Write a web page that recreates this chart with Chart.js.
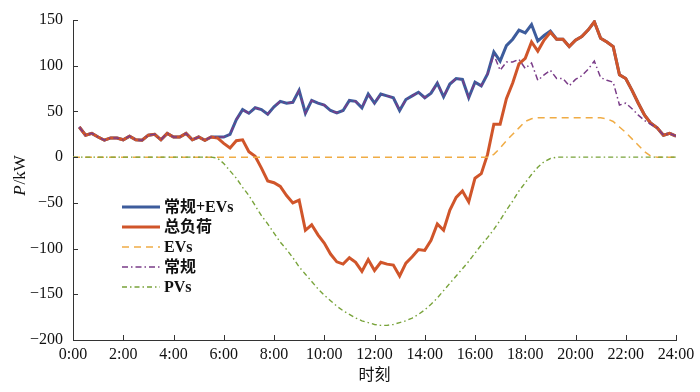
<!DOCTYPE html>
<html>
<head>
<meta charset="utf-8">
<script src="https://cdn.jsdelivr.net/npm/chart.js@4/dist/chart.umd.min.js"></script>
<style>
  html, body { margin: 0; padding: 0; background: #fff; }
  #wrap { width: 700px; height: 392px; }
</style>
</head>
<body>
<div id="wrap"><canvas id="load-chart" width="700" height="392"></canvas></div>
<script>
// sample times in hours, every 15 min from 0:00 to 24:00
var hours = [];
for (var i = 0; i <= 96; i++) hours.push(i / 4);

var seriesNames = ['常规+EVs', '总负荷', 'EVs', '常规', 'PVs'];
var xTickStep = 2;   // hours between x labels
var yTickStep = 50;  // kW between y labels

// conventional load (kW), no sample at 0:00
var conventional = [null,
  33, 24, 26, 22, 18.5, 21, 21, 19, 23, 19, 18.5, 24,
  25, 19, 26, 22, 22, 26, 19, 22, 18.5, 22, 22, 22,
  25, 41, 52, 48, 54, 52, 47, 55, 61, 59, 60, 73,
  48, 62, 59, 57, 51, 48.5, 51, 62, 61, 54, 69, 59,
  69, 67, 65, 51, 63, 67, 71, 65, 70, 81, 66, 80,
  86, 85, 65, 82, 78, 91, 112, 95, 104, 104, 107, 97,
  103, 84, 90, 95, 86, 86, 78, 85, 89, 96, 105, 87,
  84, 82, 57, 59, 53, 46, 40, 36, 32, 24, 26, 23];

// EV charging load (kW)
var evs = [0,
  0, 0, 0, 0, 0, 0, 0, 0, 0, 0, 0, 0,
  0, 0, 0, 0, 0, 0, 0, 0, 0, 0, 0, 0,
  0, 0, 0, 0, 0, 0, 0, 0, 0, 0, 0, 0,
  0, 0, 0, 0, 0, 0, 0, 0, 0, 0, 0, 0,
  0, 0, 0, 0, 0, 0, 0, 0, 0, 0, 0, 0,
  0, 0, 0, 0, 0, 0, 3, 10, 18, 25, 32, 39,
  42, 43, 43, 43, 43, 43, 43, 43, 43, 43, 43, 43,
  42, 39, 33, 27, 20, 13, 6, 1, 0, 0, 0, 0];

// PV output as negative load (kW)
var pvs = [0,
  0, 0, 0, 0, 0, 0, 0, 0, 0, 0, 0, 0,
  0, 0, 0, 0, 0, 0, 0, 0, 0, 0, -1, -7,
  -15, -23, -33, -42, -53, -64, -73, -83, -93, -101, -110, -120,
  -128, -136, -144, -151, -157, -163, -168, -172, -176, -179, -181, -183,
  -184, -184, -183, -181, -179, -176, -172, -167, -161, -154, -146, -138,
  -130, -122, -114, -105, -96, -88, -79, -69, -58, -48, -37, -28,
  -19, -11, -5, -1.5, 0, 0, 0, 0, 0, 0, 0, 0,
  0, 0, 0, 0, 0, 0, 0, 0, 0, 0, 0, 0];

// conventional + EVs, and the total once PV is added
var convPlusEv = conventional.map(function(v, k) { return v === null ? null : v + evs[k]; });
var totalLoad = convPlusEv.map(function(v, k) { return v === null ? null : v + pvs[k]; });

function toPoints(arr) {
  return arr.map(function(v, k) { return { x: hours[k], y: v }; });
}

var tickFont = { family: '"Liberation Serif", "Times New Roman", serif', size: 16 };
var cjkFont = { family: '"Liberation Serif", "Noto Sans CJK SC", serif', size: 16 };

// draws the inward axis ticks, the y title and the legend
var extras = {
  id: 'extras',
  afterDraw: function(chart) {
    var ctx = chart.ctx, xs = chart.scales.x, ys = chart.scales.y, area = chart.chartArea;
    ctx.save();
    ctx.strokeStyle = '#333';
    ctx.lineWidth = 1;
    ctx.beginPath();
    ys.ticks.forEach(function(t) {
      var py = Math.round(ys.getPixelForValue(t.value)) + 0.5;
      ctx.moveTo(area.left, py); ctx.lineTo(area.left + 5, py);
    });
    xs.ticks.forEach(function(t) {
      var px = Math.round(xs.getPixelForValue(t.value)) + 0.5;
      ctx.moveTo(px, area.bottom); ctx.lineTo(px, area.bottom - 5);
    });
    ctx.stroke();

    // y title: italic P, upright /kW
    ctx.fillStyle = '#111';
    ctx.textBaseline = 'middle';
    ctx.translate(21, 176);
    ctx.rotate(-Math.PI / 2);
    ctx.font = 'italic 17px "Liberation Serif", serif';
    var wP = ctx.measureText('P').width;
    ctx.font = '17px "Liberation Serif", serif';
    var wRest = ctx.measureText('/kW').width;
    var x0 = -(wP + wRest) / 2;
    ctx.font = 'italic 17px "Liberation Serif", serif';
    ctx.textAlign = 'left';
    ctx.fillText('P', x0, 0);
    ctx.font = '17px "Liberation Serif", serif';
    ctx.fillText('/kW', x0 + wP + 1, 0);
    ctx.setTransform(1, 0, 0, 1, 0, 0);

    // legend
    chart.data.datasets.forEach(function(ds, k) {
      var ly = 207 + k * 20;
      ctx.beginPath();
      ctx.strokeStyle = ds.borderColor;
      ctx.lineWidth = ds.borderWidth;
      ctx.setLineDash(ds.borderDash || []);
      ctx.moveTo(122, ly); ctx.lineTo(160, ly);
      ctx.stroke();
      ctx.setLineDash([]);
      ctx.fillStyle = '#111';
      ctx.font = 'bold 16px "Liberation Serif", "Noto Sans CJK SC", serif';
      ctx.textAlign = 'left';
      ctx.textBaseline = 'middle';
      ctx.fillText(ds.label, 164, ly + 1);
    });
    ctx.restore();
  }
};

var ctx = document.getElementById('load-chart').getContext('2d');
var loadChart = new Chart(ctx, {
  type: 'line',
  data: {
    datasets: [
      { label: seriesNames[0], data: toPoints(convPlusEv), borderColor: '#3d5c9c', borderWidth: 3, order: 4 },
      { label: seriesNames[1], data: toPoints(totalLoad), borderColor: '#d0552a', borderWidth: 3, order: 3 },
      { label: seriesNames[2], data: toPoints(evs), borderColor: '#f0ac45', borderWidth: 1.5, borderDash: [7, 5], order: 2 },
      { label: seriesNames[3], data: toPoints(conventional), borderColor: '#7a3c88', borderWidth: 1.5, borderDash: [6, 3, 1.5, 3], order: 1 },
      { label: seriesNames[4], data: toPoints(pvs), borderColor: '#78a33a', borderWidth: 1.4, borderDash: [5, 3, 1.5, 3], order: 0 }
    ]
  },
  options: {
    responsive: false,
    animation: false,
    layout: { padding: { top: 20, right: 24, left: 0, bottom: 0 } },
    elements: { point: { radius: 0 }, line: { tension: 0, fill: false } },
    plugins: { legend: { display: false }, tooltip: { enabled: false } },
    scales: {
      x: {
        type: 'linear', min: 0, max: 24,
        ticks: {
          stepSize: xTickStep, autoSkip: false, maxRotation: 0, padding: 5,
          color: '#111', font: tickFont,
          callback: function(v) { return v + ':00'; }
        },
        grid: { drawOnChartArea: false, drawTicks: false },
        border: { display: true, color: '#333', width: 1 },
        title: { display: true, text: '时刻', color: '#111', font: cjkFont, padding: { top: 0, bottom: 7 } },
        afterFit: function(s) { s.height = 52; }
      },
      y: {
        min: -200, max: 150,
        ticks: {
          stepSize: yTickStep, padding: 10, color: '#111', font: tickFont,
          callback: function(v) { return String(v).replace('-', '\u2212'); }
        },
        grid: { drawOnChartArea: false, drawTicks: false },
        border: { display: true, color: '#333', width: 1 },
        afterFit: function(s) { s.width = 73; }
      }
    }
  },
  plugins: [extras]
});
</script>
</body>
</html>
